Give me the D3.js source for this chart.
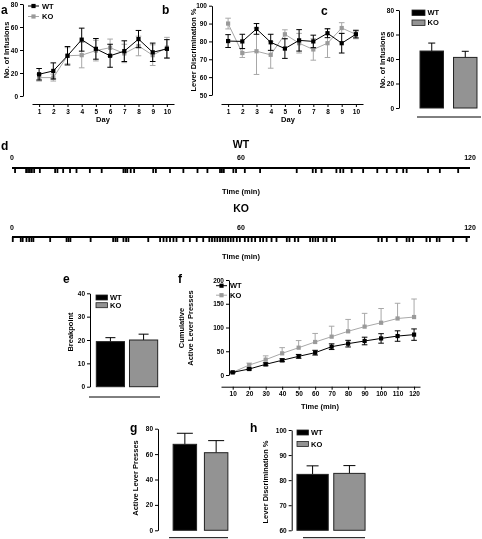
<!DOCTYPE html>
<html><head><meta charset="utf-8">
<script src="https://cdn.jsdelivr.net/npm/d3@7"></script>
<style>
body{margin:0;background:#fff;}
svg{will-change:transform;}
svg text{font-family:"Liberation Sans",Arial,sans-serif;font-weight:bold;fill:#000;}
</style></head><body>
<svg id="fig" width="482" height="539"></svg>
<script>
// ---------- data ----------
const days = [1,2,3,4,5,6,7,8,9,10];
const groups = ["WT","KO"];
// panel a: No. of infusions
const aWT    = [18.9,21.8,35,49,41,35,39,49.5,38,41];
const aWTerr = [5,7,8,10,9,10,9,7.5,8,8];
const aKO    = [16,16,35,35.5,39.5,42,37,43.5,35.5,42];
const aKOerr = [3,3,7,11,9,7.5,8,8.5,9,9];
// panel b: lever discrimination %
const bWT    = [80.2,80,87,79.5,76,80.6,80,84.6,79,84];
const bWTerr = [3.6,4,3,4.5,5.5,6,3.5,2.5,5.5,2];
const bKO    = [90,73.5,74.5,72.5,84,79,75.5,79,87.5,84];
const bKOerr = [3,2.5,13,7.5,2.5,5.5,6,8,3,2.5];
// panel c
const cMean = [46.5,41.3];
const cErr  = [6.5,5];
// panel d: event times (min)
const dWT = [0.8,3.7,4.2,4.7,5.2,5.8,7.3,11.3,11.9,13.4,15.2,16.9,20.4,23.5,29.2,29.7,30.2,31.1,32.0,37.0,37.7,41.4,44.9,48.6,51.2,54.5,55.0,55.5,58.0,58.7,61.0,65.0,74.6,78.8,79.6,81.1,85.0,86.0,86.8,89.0,92.0,95.7,98.2,100.8,102.5,103.4,109.0,112.1,116.9];
const dKO = [0.2,2.3,2.8,3.8,4.5,5.1,5.6,10.0,14.3,14.8,15.3,20.6,26.5,27.1,27.6,29.2,29.9,30.5,35.7,38.8,39.7,40.5,41.4,42.3,43.1,44.9,46.6,48.4,50.1,51.7,52.4,53.1,53.8,54.5,55.2,55.9,56.6,57.3,58.0,58.9,59.7,61.0,61.9,62.8,63.7,65.0,65.8,66.7,68.0,69.3,72.0,72.7,74.1,75.0,78.1,78.8,79.5,80.2,81.6,82.4,83.8,84.6,96.0,96.9,98.2,100.8,103.4,104.1,105.1,108.6,109.5,111.3,112.0,115.6,119.1];
const dTicks = [0,60,120];
// panel e
const eMean = [19.3,20];
const eErr  = [1.7,2.5];
// panel f: cumulative active lever presses
const fTimes = [10,20,30,40,50,60,70,80,90,100,110,120];
const fWT    = [5.6,12.6,22.5,31,39.3,47,59.6,66,71.6,77,82,85];
const fWTerr = [1,2,3,3,4,5,6,7,8,10,11,12];
const fKO    = [5.6,21,32.3,45.6,57.5,69.5,80.7,92,101.8,110,119,122];
const fKOerr = [1,4,8,12,15,18,22,25,28,30,32,38];
// panel g
const gMean = [67.7,61.1];
const gErr  = [8.7,9.5];
// panel h
const hMean = [82.3,82.7];
const hErr  = [3.4,3.1];

// ---------- helpers ----------
const svg = d3.select("#fig");
const FONT = '"Liberation Sans",Arial,sans-serif';
const GREY_LINE = "#a8a8a8", GREY_MARK = "#9a9a9a", BAR_GREY = "#939393";

function styleAxis(g){
  g.attr("font-family",FONT).attr("font-size",6.5).attr("font-weight","bold");
  g.selectAll("path,line").attr("stroke","#000").attr("stroke-width",1);
  g.selectAll("text").attr("fill","#000");
}
function yAxis(scale, x, ticks){
  svg.append("g").attr("transform",`translate(${x},0)`)
    .call(d3.axisLeft(scale).tickValues(ticks).tickSize(3).tickSizeOuter(0).tickPadding(2))
    .call(styleAxis);
}
function xAxis(scale, y, ticks){
  svg.append("g").attr("transform",`translate(0,${y})`)
    .call(d3.axisBottom(scale).tickValues(ticks).tickSize(3).tickSizeOuter(0).tickPadding(2))
    .call(styleAxis);
}
function rotLabel(lines, x, y, size){
  lines.forEach((t,i)=>{
    svg.append("text").attr("transform",`translate(${x+i*(size+1.5)},${y}) rotate(-90)`)
      .attr("text-anchor","middle").attr("dy","0.35em").attr("font-size",size).text(t);
  });
}
function label(t,x,y,size,anchor){
  svg.append("text").attr("x",x).attr("y",y).attr("font-size",size)
    .attr("text-anchor",anchor||"start").text(t);
}
function series(x, y, xs, vals, errs, color, mark, upOnly){
  const g = svg.append("g");
  const cap = 2.8;
  xs.forEach((d,i)=>{
    const top = y(vals[i]+errs[i]), bot = upOnly ? y(vals[i]) : y(vals[i]-errs[i]);
    g.append("line").attr("x1",x(d)).attr("x2",x(d)).attr("y1",top).attr("y2",bot).attr("stroke",color).attr("stroke-width",1);
    g.append("line").attr("x1",x(d)-cap).attr("x2",x(d)+cap).attr("y1",top).attr("y2",top).attr("stroke",color).attr("stroke-width",1);
    if(!upOnly) g.append("line").attr("x1",x(d)-cap).attr("x2",x(d)+cap).attr("y1",bot).attr("y2",bot).attr("stroke",color).attr("stroke-width",1);
  });
  g.append("path").datum(xs.map((d,i)=>[d,vals[i]]))
    .attr("d",d3.line().x(d=>x(d[0])).y(d=>y(d[1])))
    .attr("fill","none").attr("stroke",color).attr("stroke-width",1);
  g.selectAll("rect").data(xs).join("rect")
    .attr("x",(d)=>x(d)-2.1).attr("y",(d,i)=>y(vals[i])-2.1)
    .attr("width",4.2).attr("height",4.2).attr("fill",mark);
}
function lineLegend(x0, y0, dy){
  [["WT","#000","#000"],["KO",GREY_LINE,GREY_MARK]].forEach((d,i)=>{
    const yy = y0+i*dy;
    svg.append("line").attr("x1",x0).attr("x2",x0+11).attr("y1",yy).attr("y2",yy).attr("stroke",d[1]).attr("stroke-width",1);
    svg.append("rect").attr("x",x0+3.4).attr("y",yy-2.1).attr("width",4.2).attr("height",4.2).attr("fill",d[2]);
    svg.append("text").attr("x",x0+14).attr("y",yy).attr("dy","0.35em").attr("font-size",7.5).text(d[0]);
  });
}
function bars(band, y, means, errs, base, cap){
  groups.forEach((gname,i)=>{
    const x0 = band(gname), w = band.bandwidth();
    const cx = x0 + w/2, top = y(means[i]+errs[i]);
    svg.append("line").attr("x1",cx).attr("x2",cx).attr("y1",top).attr("y2",y(means[i])).attr("stroke","#000").attr("stroke-width",1);
    svg.append("line").attr("x1",cx-cap/2).attr("x2",cx+cap/2).attr("y1",top).attr("y2",top).attr("stroke","#000").attr("stroke-width",1);
    svg.append("rect").attr("x",x0).attr("y",y(means[i])).attr("width",w).attr("height",y(base)-y(means[i]))
      .attr("fill", i===0 ? "#000" : BAR_GREY).attr("stroke","#222").attr("stroke-width",1);
  });
}
function boxLegend(x0, y0, dy, w, h){
  groups.forEach((gname,i)=>{
    const yy = y0+i*dy;
    svg.append("rect").attr("x",x0).attr("y",yy).attr("width",w).attr("height",h)
      .attr("fill", i===0 ? "#000" : BAR_GREY).attr("stroke","#222").attr("stroke-width",0.8);
    svg.append("text").attr("x",x0+w+2.5).attr("y",yy+h/2).attr("dy","0.35em").attr("font-size",7.5).text(gname);
  });
}
function baseline(x1,x2,y){
  svg.append("line").attr("x1",x1).attr("x2",x2).attr("y1",y).attr("y2",y).attr("stroke","#000").attr("stroke-width",1);
}

// ---------- panel a ----------
{
  const x = d3.scaleLinear().domain([0.5,10.5]).range([32,174]);
  const y = d3.scaleLinear().domain([0,80]).range([96,4]);
  yAxis(y, 23, [0,20,40,60,80]);
  xAxis(x, 104, days);
  series(x,y,days,aKO,aKOerr,GREY_LINE,GREY_MARK,false);
  series(x,y,days,aWT,aWTerr,"#000","#000",false);
  lineLegend(28,6,10.5);
  rotLabel(["No. of Infusions"],6,50,7.5);
  label("Day",103,122,7.5,"middle");
  label("a",1,14,12);
}
// ---------- panel b ----------
{
  const x = d3.scaleLinear().domain([0.5,10.5]).range([221,363]);
  const y = d3.scaleLinear().domain([50,100]).range([95,5.7]);
  yAxis(y, 212, [50,60,70,80,90,100]);
  xAxis(x, 104, days);
  series(x,y,days,bKO,bKOerr,GREY_LINE,GREY_MARK,false);
  series(x,y,days,bWT,bWTerr,"#000","#000",false);
  rotLabel(["Lever Discrimination %"],193,50,7.5);
  label("Day",288,122,7.5,"middle");
  label("b",162,14,12);
}
// ---------- panel c ----------
{
  const band = d3.scaleBand().domain(groups).range([416,481]).paddingInner(0.3).paddingOuter(0.12);
  const y = d3.scaleLinear().domain([0,80]).range([108,10]);
  yAxis(y, 399, [0,20,40,60,80]);
  bars(band,y,cMean,cErr,0,7);
  baseline(417,481,117);
  boxLegend(412,10,10,13,5.5);
  rotLabel(["No. of Infusions"],382,60,7.5);
  label("c",321,15,12);
}
// ---------- panel d ----------
{
  const t = d3.scaleLinear().domain([0,120]).range([12,470]);
  [[dWT,"WT",148,160,168,194],[dKO,"KO",212,230,237,259]].forEach(([ev,name,yt,yl,yline,ytime])=>{
    label(name,t(60),yt,10.5,"middle");
    dTicks.forEach(v=>label(String(v),t(v),yl,7,"middle"));
    svg.append("line").attr("x1",t(0)).attr("x2",t(120)).attr("y1",yline).attr("y2",yline).attr("stroke","#000").attr("stroke-width",2);
    svg.append("g").selectAll("rect").data(ev).join("rect")
      .attr("x",d=>t(d)-0.9).attr("y",yline).attr("width",1.8).attr("height",5).attr("fill","#000");
    label("Time (min)",t(60),ytime,7.5,"middle");
  });
  label("d",1,150,12);
}
// ---------- panel e ----------
{
  const band = d3.scaleBand().domain(groups).range([93,161]).paddingInner(0.15).paddingOuter(0.1);
  const y = d3.scaleLinear().domain([0,40]).range([386.7,293.3]);
  yAxis(y, 90, [0,10,20,30,40]);
  bars(band,y,eMean,eErr,0,10);
  baseline(89,160,397);
  boxLegend(96,295,7.7,11.5,5);
  rotLabel(["Breakpoint"],70,332,7.5);
  label("e",63,283,12);
}
// ---------- panel f ----------
{
  const x = d3.scaleLinear().domain([2.9,123.6]).range([221,420]);
  const y = d3.scaleLinear().domain([0,200]).range([375,280]);
  yAxis(y, 229, [0,50,100,150,200]);
  xAxis(x, 386.7, fTimes);
  series(x,y,fTimes,fKO,fKOerr,GREY_LINE,GREY_MARK,true);
  series(x,y,fTimes,fWT,fWTerr,"#000","#000",false);
  lineLegend(216,285.7,9.5);
  rotLabel(["Cumulative","Active Lever Presses"],181.5,328,7.5);
  label("Time (min)",320,409,7.5,"middle");
  label("f",178,283,12);
}
// ---------- panel g ----------
{
  const band = d3.scaleBand().domain(groups).range([170,231]).paddingInner(0.25).paddingOuter(0.1);
  const y = d3.scaleLinear().domain([0,80]).range([530.3,428.7]);
  yAxis(y, 158, [0,20,40,60,80]);
  bars(band,y,gMean,gErr,0,16);
  baseline(169,228,537.7);
  rotLabel(["Active Lever Presses"],135,478,7.5);
  label("g",130,432,12);
}
// ---------- panel h ----------
{
  const band = d3.scaleBand().domain(groups).range([294,368]).paddingInner(0.15).paddingOuter(0.08);
  const y = d3.scaleLinear().domain([60,100]).range([530.3,430]);
  yAxis(y, 291.7, [60,70,80,90,100]);
  bars(band,y,hMean,hErr,60,12);
  baseline(303,365,537.7);
  boxLegend(297,430,11.5,11.5,5);
  rotLabel(["Lever Discrimination %"],265,482,7.5);
  label("h",250,432,12);
}
</script>
</body></html>
